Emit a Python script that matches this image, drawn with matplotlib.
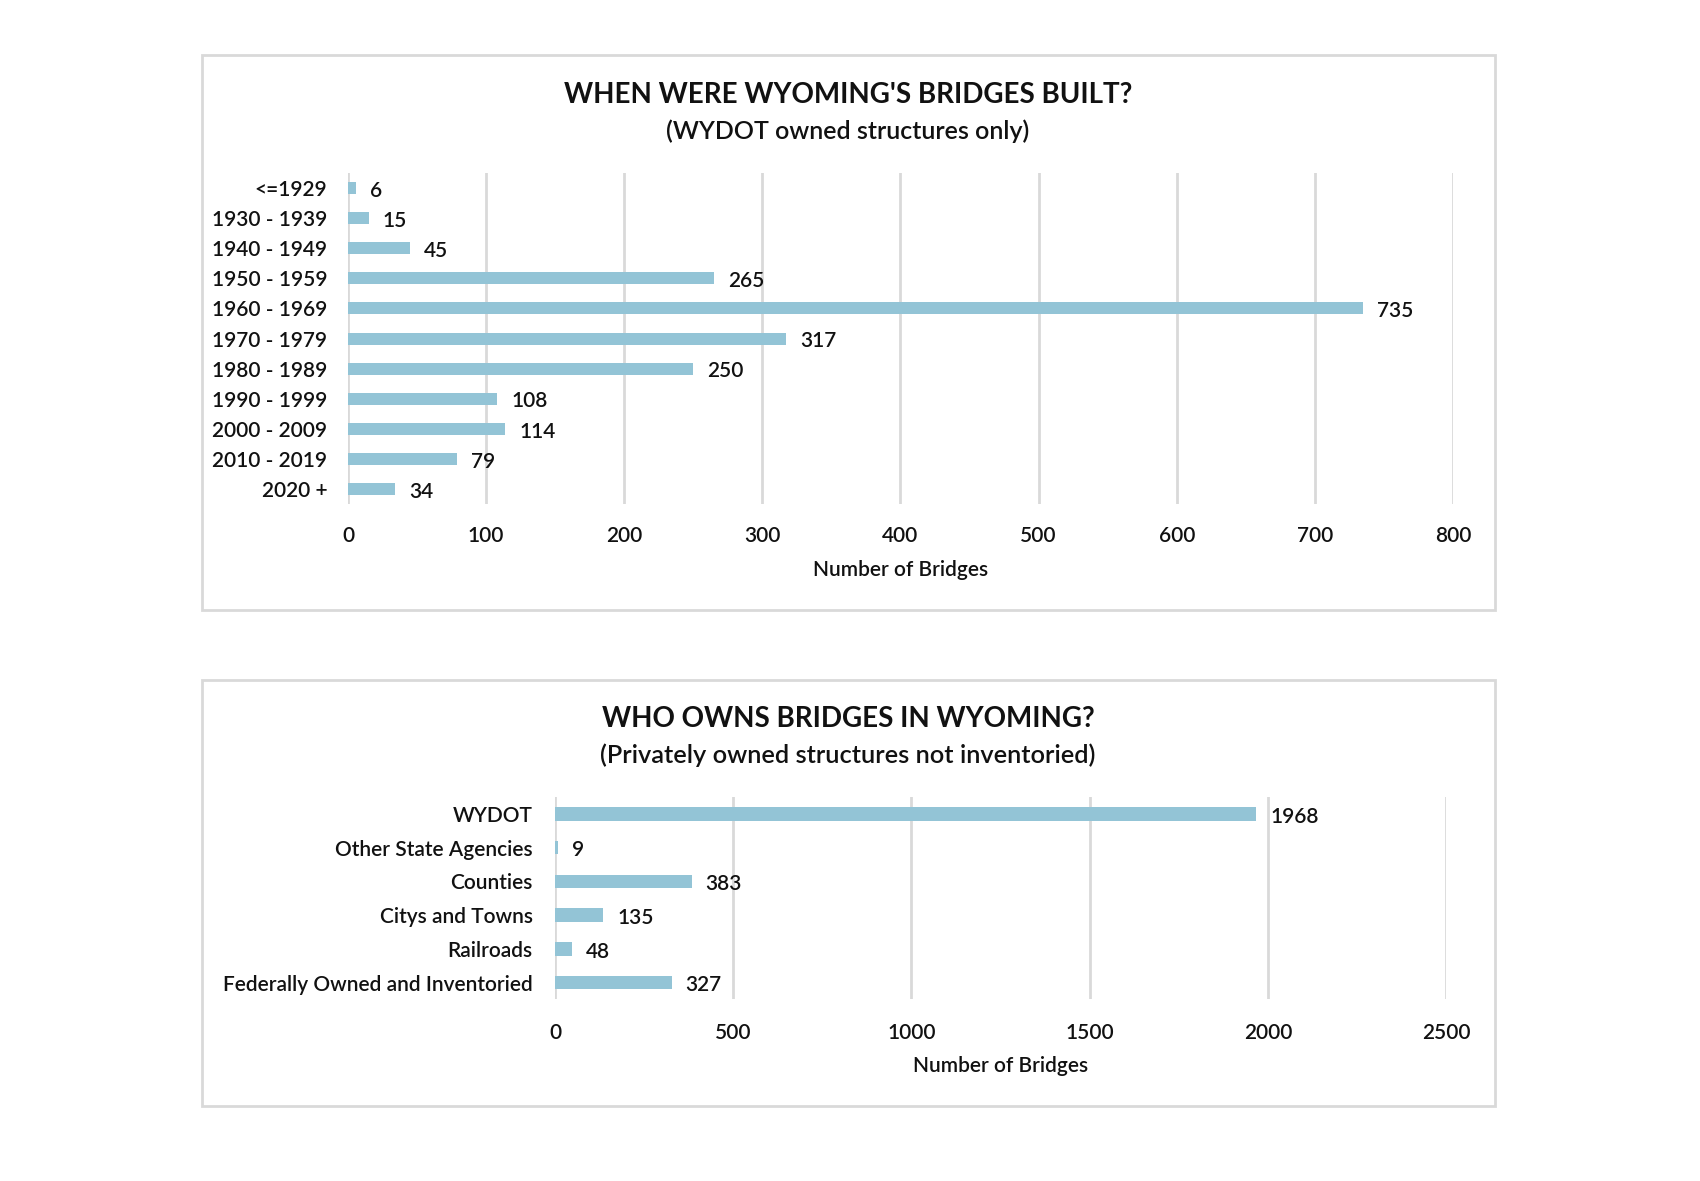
import matplotlib.pyplot as plt
from matplotlib.patches import Rectangle

# dados
decadas = ["<=1929", "1930 - 1939", "1940 - 1949", "1950 - 1959", "1960 - 1969",
           "1970 - 1979", "1980 - 1989", "1990 - 1999", "2000 - 2009",
           "2010 - 2019", "2020 +"]
pontes_decada = [6, 15, 45, 265, 735, 317, 250, 108, 114, 79, 34]
ticks_decada = [0, 100, 200, 300, 400, 500, 600, 700, 800]

proprietarios = ["WYDOT", "Other State Agencies", "Counties", "Citys and Towns",
                 "Railroads", "Federally Owned and Inventoried"]
pontes_dono = [1968, 9, 383, 135, 48, 327]
ticks_dono = [0, 500, 1000, 1500, 2000, 2500]

plt.rcParams['font.family'] = ['Lato', 'DejaVu Sans']
PESO = 'semibold'
TAM = 15

COR_BARRA = '#93C4D6'
COR_GRADE = '#D9D9D9'
COR_TEXTO = '#111111'

fig = plt.figure(figsize=(17, 11.81), dpi=100)
fig.patch.set_facecolor('white')

# molduras
for (x0, y0, w, h) in [(0.1188, 0.4835, 0.7606, 0.4699), (0.1188, 0.0635, 0.7606, 0.3607)]:
    fig.add_artist(Rectangle((x0, y0), w, h, transform=fig.transFigure,
                             fill=False, edgecolor=COR_GRADE, linewidth=2))


def barras(ax, cats, vals, ticks, pad, xpad, lpad):
    y = range(len(cats))
    ax.barh(y, vals, height=0.4, color=COR_BARRA, zorder=3)
    ax.set_ylim(len(cats) - 0.5, -0.5)
    ax.set_xlim(ticks[0], ticks[-1])
    ax.set_xticks(ticks)
    ax.set_yticks(list(y))
    ax.set_yticklabels(cats)
    ax.tick_params(axis='both', length=0, labelsize=TAM, colors=COR_TEXTO)
    ax.tick_params(axis='y', pad=pad)
    ax.tick_params(axis='x', pad=xpad)
    for lbl in ax.get_xticklabels() + ax.get_yticklabels():
        lbl.set_fontweight(PESO)
    for s in ax.spines.values():
        s.set_visible(False)
    ax.grid(axis='x', color=COR_GRADE, linewidth=2, zorder=0)
    ax.set_axisbelow(True)
    for i, v in enumerate(vals):
        ax.annotate(f"{v}", (v, i), xytext=(10, -2), textcoords='offset points',
                    ha='left', va='center', fontsize=TAM, color=COR_TEXTO, fontweight=PESO)
    ax.set_xlabel("Number of Bridges", fontsize=TAM, color=COR_TEXTO, labelpad=lpad,
                  fontweight=PESO)


# ============================================================
# gráfico de cima: décadas
# ============================================================
ax1 = fig.add_axes([0.2047, 0.5732, 0.65, 0.2803])
barras(ax1, decadas, pontes_decada, ticks_decada, 15, 16, 10)
fig.text(0.4988, 0.9193, "WHEN WERE WYOMING'S BRIDGES BUILT?", ha='center', va='center',
         fontsize=20, fontweight='bold', color=COR_TEXTO)
fig.text(0.4988, 0.8885, "(WYDOT owned structures only)", ha='center', va='center',
         fontsize=18, fontweight=PESO, color=COR_TEXTO)

# ============================================================
# gráfico de baixo: proprietários
# ============================================================
ax2 = fig.add_axes([0.3265, 0.1537, 0.5241, 0.1714])
barras(ax2, proprietarios, pontes_dono, ticks_dono, 16, 17, 9)
fig.text(0.4988, 0.3910, "WHO OWNS BRIDGES IN WYOMING?", ha='center', va='center',
         fontsize=20, fontweight='bold', color=COR_TEXTO)
fig.text(0.4988, 0.3605, "(Privately owned structures not inventoried)", ha='center', va='center',
         fontsize=18.3, fontweight=PESO, color=COR_TEXTO)

fig.savefig("out.png", dpi=100, facecolor='white')
